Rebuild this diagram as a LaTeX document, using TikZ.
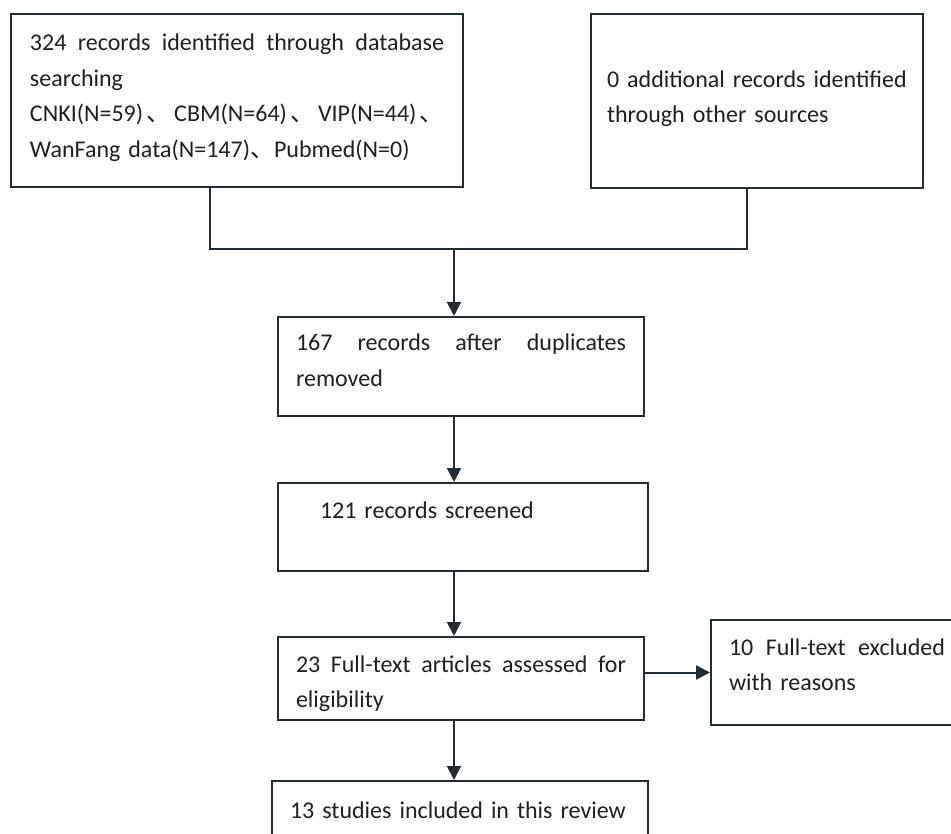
\documentclass[tikz,border=0pt]{standalone}
\usepackage{fontspec}
\setmainfont{Carlito}
\newfontfamily\cjkfont{Noto Sans CJK SC}
\usetikzlibrary{arrows.meta}
\newcommand{\dun}{{\cjkfont 、}}
\newcommand{\fullline}[2]{\leavevmode\hbox to #1{#2}}
\definecolor{inkline}{RGB}{33,45,50}
\definecolor{inktext}{RGB}{30,32,36}

\begin{document}
\begin{tikzpicture}[x=1pt,y=-1pt,
    stage/.style={draw=inkline,line width=2pt,rectangle,anchor=north west,
      inner xsep=18pt,inner ysep=0pt,align=left,text=inktext,
      font=\fontsize{24}{35.5}\selectfont},
    link/.style={draw=inkline,line width=2pt},
    flow/.style={link,-{Triangle[length=14pt,width=14pt]}}]
  \clip (0,0) rectangle (951,834);
  \fill[white] (0,0) rectangle (951,834);
  \node[stage,inner xsep=19pt,text width=414pt,text height=37pt,text depth=136pt] (search) at (10,13)
    {\fullline{414pt}{324\hfill records\hfill identified\hfill through\hfill database}\\
     searching\\
     \fullline{414pt}{CNKI(N=59)\hfill\dun\hfill CBM(N=64)\hfill\dun\hfill VIP(N=44)\hfill\dun}\\
     WanFang data(N=147)\dun Pubmed(N=0)};
  \node[stage,inner xsep=16pt,text width=300pt,text height=38pt,text depth=136pt] (other) at (590,13)
    {\mbox{}\\0 additional records identified\\through other sources};
  \node[stage,text width=330pt,text height=34pt,text depth=65pt] (dedup) at (277,316)
    {\fullline{330pt}{167\hfill records\hfill after\hfill duplicates}\\removed};
  \node[stage,text width=334pt,text height=35pt,text depth=53pt] (screen) at (277,482)
    {\hspace*{24pt}121 records screened};
  \node[stage,text width=330pt,text height=35pt,text depth=48pt] (fulltext) at (277,636)
    {\fullline{330pt}{23\hfill Full-text\hfill articles\hfill assessed\hfill for}\\eligibility};
  \node[stage,text width=216pt,text height=35pt,text depth=70pt] (excluded) at (710,619)
    {\fullline{216pt}{10\hfill Full-text\hfill excluded}\\with reasons};
  \node[stage,text width=340pt,text height=37pt,text depth=50pt] (included) at (271,780)
    {13 studies included in this review};
  \coordinate (merge) at (454,249);
  \draw[link] ([xshift=-27pt]search.south) |- (merge) -| ([xshift=-10pt]other.south);
  \draw[flow] (merge) -- (merge |- dedup.north);
  \draw[flow] (dedup.south -| merge) -- (screen.north -| merge);
  \draw[flow] (screen.south -| merge) -- (fulltext.north -| merge);
  \draw[flow] (fulltext.south -| merge) -- (included.north -| merge);
  \draw[flow] (fulltext.east |- excluded.west) -- (excluded.west);
\end{tikzpicture}
\end{document}
